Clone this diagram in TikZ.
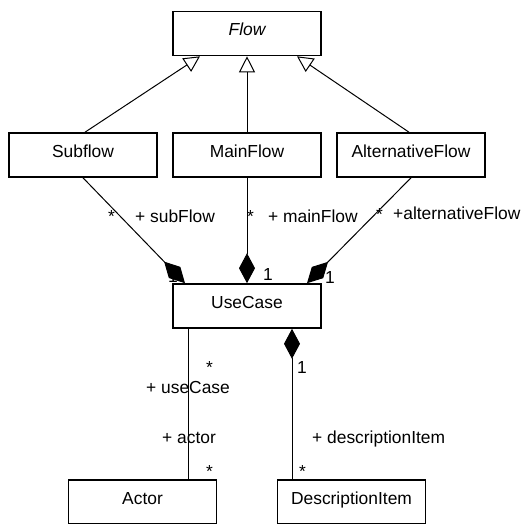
\documentclass[tikz,border=0pt]{standalone}
\usepackage{fontspec}
\setmainfont{Liberation Sans}
\usetikzlibrary{arrows.meta,calc}
\begin{document}
\begin{tikzpicture}[x=1pt,y=-1pt,
  cls/.style={draw, line width=1.6pt, minimum width=148pt, minimum height=44pt, inner sep=0pt,
    text height=13pt, text depth=9pt, font=\fontsize{17.4}{20}\selectfont},
  lbl/.style={anchor=base west, inner sep=0pt, font=\fontsize{17.4}{20}\selectfont},
  gen/.style={line width=1pt, -{Triangle[open, length=16pt, width=16pt, fill=white, line width=1pt]}},
  comp/.style={line width=1pt, -{Diamond[length=30pt, width=16pt]}},
]
\useasboundingbox (0,0) rectangle (531,523);
\clip (0,0) rectangle (531,523);
\fill[white] (0,0) rectangle (531,523);

% classes
\node[cls] (flow) at (247,33.5) {\itshape Flow};
\node[cls] (sub)  at (83,155)   {Subflow};
\node[cls] (main) at (247,155)  {MainFlow};
\node[cls] (alt)  at (411,155)  {AlternativeFlow};
\node[cls] (uc)   at (247,306)  {UseCase};
\node[cls] (actor) at (142.5,502) {Actor};
\node[cls] (desc)  at (351.5,502) {DescriptionItem};

% generalizations
\draw[gen] ([xshift=2pt]sub.north) -- ([xshift=-47pt]flow.south);
\draw[gen] (main.north) -- (flow.south);
\draw[gen] ([xshift=-2pt]alt.north) -- ([xshift=50pt]flow.south);

% labels (drawn before diamonds)
\node[lbl] (m1) at (108,222) {*};
\node[lbl] (r1) at (135,222) {+ subFlow};
\node[lbl] (m2) at (247,222) {*};
\node[lbl] (r2) at (268,222) {+ mainFlow};
\node[lbl] (m3) at (376,220) {*};
\node[lbl] (r3) at (393,219) {+alternativeFlow};
\node[lbl] (o1) at (168,282) {1};
\node[lbl] (o2) at (263,280) {1};
\node[lbl] (o3) at (325,283) {1};

% compositions to UseCase
\draw[comp] (sub.south) -- ([xshift=-62pt]uc.north);
\draw[comp] (main.south) -- (uc.north);
\draw[comp] (alt.south) -- ([xshift=60pt]uc.north);

% lower connectors
\coordinate (a1) at ([xshift=-59pt]uc.south);
\coordinate (d1) at ([xshift=45pt]uc.south);
\draw[line width=1pt] (a1) -- (a1 |- actor.north);
\draw[comp] (d1 |- desc.north) -- (d1);

\node[lbl] (m4) at (206,373) {*};
\node[lbl] (r4) at (146,393) {+ useCase};
\node[lbl] (r5) at (162,443) {+ actor};
\node[lbl] (m5) at (206,477) {*};
\node[lbl] (o4) at (297,373) {1};
\node[lbl] (r6) at (312,443) {+ descriptionItem};
\node[lbl] (m6) at (299,477) {*};
\end{tikzpicture}
\end{document}
